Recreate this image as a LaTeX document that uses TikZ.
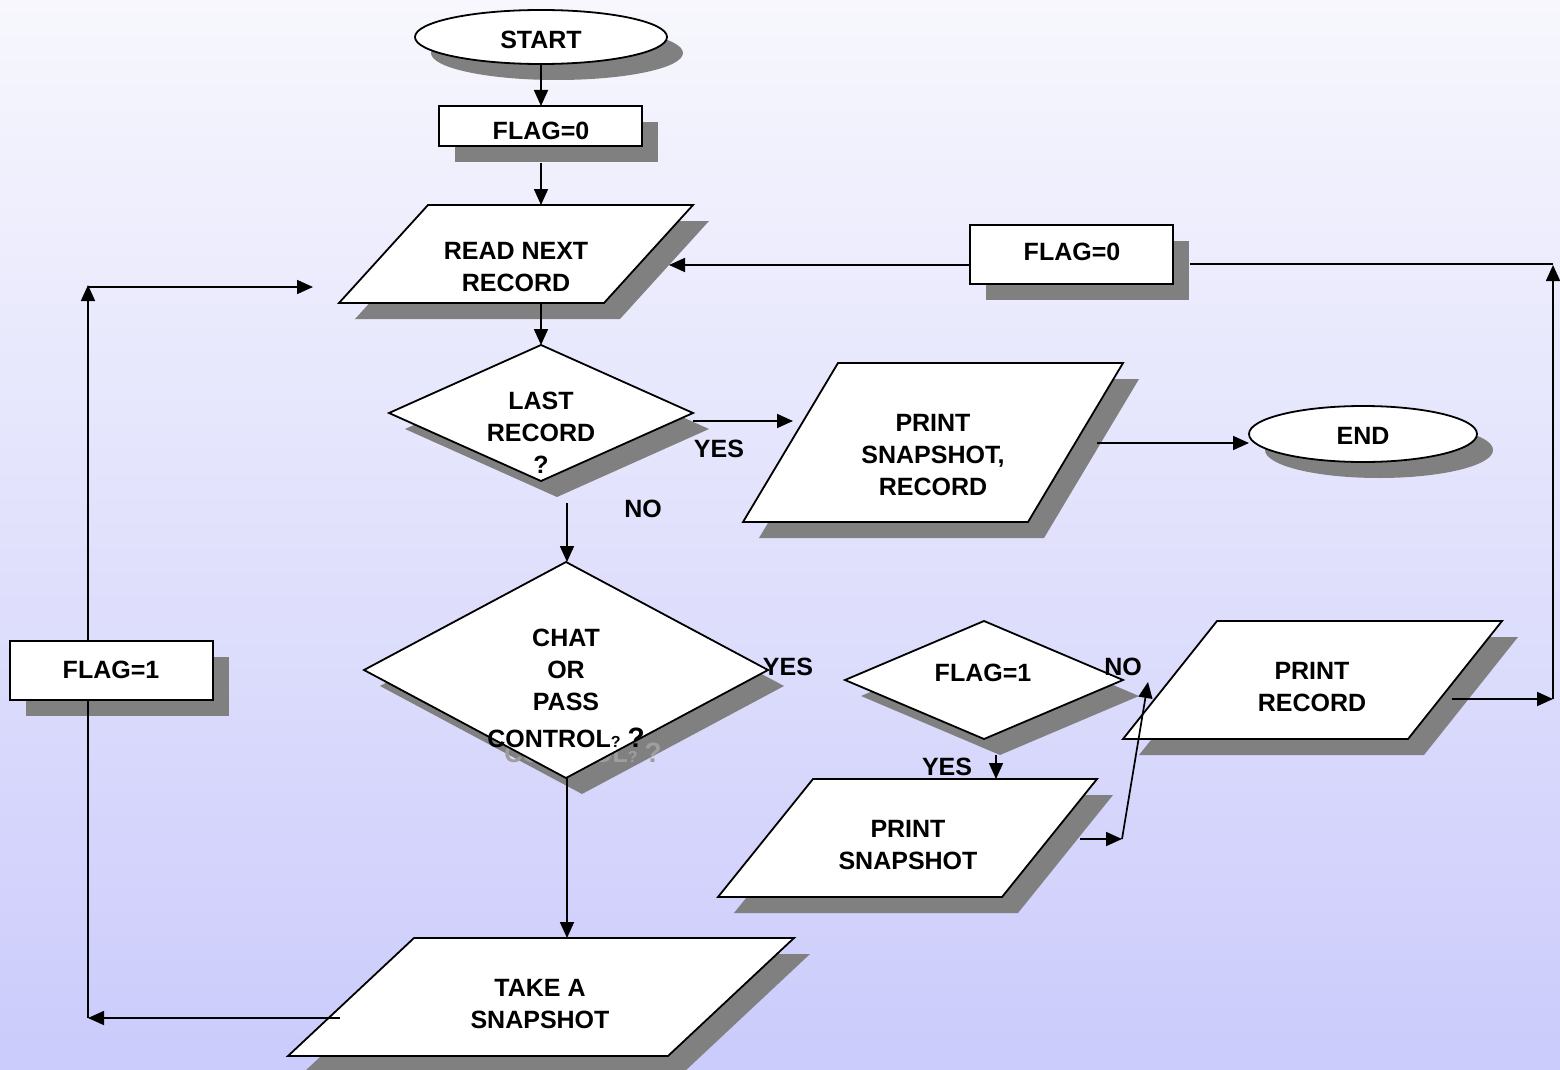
\documentclass[tikz,border=0pt]{standalone}
\usepackage{fontspec}
\setmainfont{Liberation Sans}
\usetikzlibrary{arrows.meta}
\definecolor{bgtop}{RGB}{247,247,253}
\definecolor{bgbot}{RGB}{203,203,252}
\definecolor{shadowgray}{RGB}{128,128,128}
\definecolor{ghostgray}{RGB}{158,158,158}
\tikzset{
  shadowfill/.style={fill=shadowgray, draw=none},
  shapebox/.style={fill=white, draw=black, line width=1.8pt, line join=miter},
  txt/.style={font=\fontsize{25}{32}\selectfont\bfseries, align=center, inner sep=0pt},
  flow/.style={line width=1.7pt, -{Triangle[length=16pt,width=14pt]}},
  plainline/.style={line width=1.7pt},
}
% parallelogram: top-left x, top-right x, top y, bottom-left x, bottom y
\newcommand\pgshape[5]{%
  \fill[shadowfill,shift={(16,16)}] (#1,#3) -- (#2,#3) -- ({#2-#1+#4},#5) -- (#4,#5) -- cycle;
  \draw[shapebox] (#1,#3) -- (#2,#3) -- ({#2-#1+#4},#5) -- (#4,#5) -- cycle;}
% decision diamond: centre x, centre y, half width, half height
\newcommand\dmshadow[4]{%
  \fill[shadowfill,shift={(16,16)}] ({#1-#3},#2) -- (#1,{#2-#4}) -- ({#1+#3},#2) -- (#1,{#2+#4}) -- cycle;}
\newcommand\dmbody[4]{%
  \draw[shapebox] ({#1-#3},#2) -- (#1,{#2-#4}) -- ({#1+#3},#2) -- (#1,{#2+#4}) -- cycle;}
% process box: corners
\newcommand\bxshape[4]{%
  \fill[shadowfill,shift={(16,16)}] (#1,#2) rectangle (#3,#4);
  \draw[shapebox] (#1,#2) rectangle (#3,#4);}
% terminator: centre x, centre y, x radius, y radius
\newcommand\ovshape[4]{%
  \fill[shadowfill,shift={(16,16)}] (#1,#2) ellipse [x radius=#3pt, y radius=#4pt];
  \draw[shapebox] (#1,#2) ellipse [x radius=#3pt, y radius=#4pt];}
\begin{document}
\begin{tikzpicture}[x=1pt,y=-1pt]
\useasboundingbox (0,0) rectangle (1560,1070);
\clip (0,0) rectangle (1560,1070);
\shade[top color=bgtop, bottom color=bgbot] (0,0) rectangle (1560,1070);

% ---- shapes ----
\ovshape{541}{37}{126}{27}
\bxshape{439}{106}{642}{146}
\pgshape{428}{693}{205}{339}{303}
\dmshadow{541}{413}{152}{68}\dmbody{541}{413}{152}{68}
\pgshape{838}{1123}{363}{743}{522}
\ovshape{1363}{434}{114}{28}
\bxshape{970}{225}{1173}{284}
\bxshape{10}{641}{213}{700}
\dmshadow{566}{670}{202}{108}
\node[txt, text=ghostgray] (ghost) at (583,753) {CONTROL{\fontsize{16}{16}\selectfont ?} {\fontsize{28}{28}\selectfont ?}};
\dmbody{566}{670}{202}{108}
\dmshadow{984}{680}{139}{59}\dmbody{984}{680}{139}{59}
\pgshape{1217}{1502}{621}{1123}{739}
\pgshape{813}{1097}{779}{718}{897}
\pgshape{414}{794}{938}{288}{1056}

% ---- texts ----
\node[txt] (start) at (541,40) {START};
\node[txt] (flaga) at (541,131) {FLAG=0};
\node[txt] (read) at (516,267) {READ NEXT\\RECORD};
\node[txt] (last) at (541,433) {LAST\\RECORD\\?};
\node[txt] (yesa) at (719,449) {YES};
\node[txt] (noa) at (643,509) {NO};
\node[txt] (chat) at (566,670) {CHAT\\OR\\PASS};
\node[txt] (control) at (566,738) {CONTROL{\fontsize{16}{16}\selectfont ?} {\fontsize{28}{28}\selectfont ?}};
\node[txt] (yesb) at (788,667) {YES};
\node[txt] (take) at (540,1004) {TAKE A\\SNAPSHOT};
\node[txt] (psr) at (933,455) {PRINT\\SNAPSHOT,\\RECORD};
\node[txt] (end) at (1363,436) {END};
\node[txt] (flagb) at (1072,252) {FLAG=0};
\node[txt] (flagc) at (111,670) {FLAG=1};
\node[txt] (flagd) at (983,673) {FLAG=1};
\node[txt] (noc) at (1123,667) {NO};
\node[txt] (yesc) at (947,767) {YES};
\node[txt] (prec) at (1312,687) {PRINT\\RECORD};
\node[txt] (psnap) at (908,845) {PRINT\\SNAPSHOT};

% ---- connector end points ----
\coordinate (start-s) at (541,64);
\coordinate (flaga-n) at (541,106);
\coordinate (flaga-s) at (541,163);
\coordinate (read-n) at (541,205);
\coordinate (read-s) at (541,303);
\coordinate (last-n) at (541,345);
\coordinate (last-e) at (693,421);
\coordinate (psr-w) at (793,421);
\coordinate (no-top) at (567,503);
\coordinate (chat-n) at (567,562);
\coordinate (chat-s) at (567,778);
\coordinate (take-n) at (567,938);
\coordinate (take-w) at (340,1018);
\coordinate (corner-bl) at (88,1018);
\coordinate (flagc-s) at (88,700);
\coordinate (flagc-n) at (88,641);
\coordinate (corner-tl) at (88,285);
\coordinate (loop-from) at (88,287);
\coordinate (read-w) at (313,287);
\coordinate (psr-e) at (1097,443);
\coordinate (end-w) at (1249,443);
\coordinate (flagd-s) at (996,755);
\coordinate (psnap-n) at (996,779);
\coordinate (psnap-e) at (1080,839);
\coordinate (join) at (1122,839);
\coordinate (prec-sw) at (1148,682);
\coordinate (prec-e) at (1452,699);
\coordinate (corner-br) at (1553,699);
\coordinate (corner-tr) at (1553,265);
\coordinate (flagb-e) at (1190,264);
\coordinate (corner-tr2) at (1553,264);
\coordinate (flagb-w) at (970,265);
\coordinate (read-e) at (669,265);

% ---- connectors ----
\draw[flow] (start-s) -- (flaga-n);
\draw[flow] (flaga-s) -- (read-n);
\draw[flow] (read-s) -- (last-n);
\draw[flow] (last-e) -- (psr-w);
\draw[flow] (no-top) -- (chat-n);
\draw[flow] (chat-s) -- (take-n);
\draw[flow] (take-w) -- (corner-bl);
\draw[plainline] (corner-bl) -- (flagc-s);
\draw[flow] (flagc-n) -- (corner-tl);
\draw[flow] (loop-from) -- (read-w);
\draw[flow] (psr-e) -- (end-w);
\draw[flow] (flagd-s) -- (psnap-n);
\draw[flow] (psnap-e) -- (join);
\draw[flow] (join) -- (prec-sw);
\draw[flow] (prec-e) -- (corner-br);
\draw[flow] (corner-br) -- (corner-tr);
\draw[plainline] (corner-tr2) -- (flagb-e);
\draw[flow] (flagb-w) -- (read-e);
\end{tikzpicture}
\end{document}
